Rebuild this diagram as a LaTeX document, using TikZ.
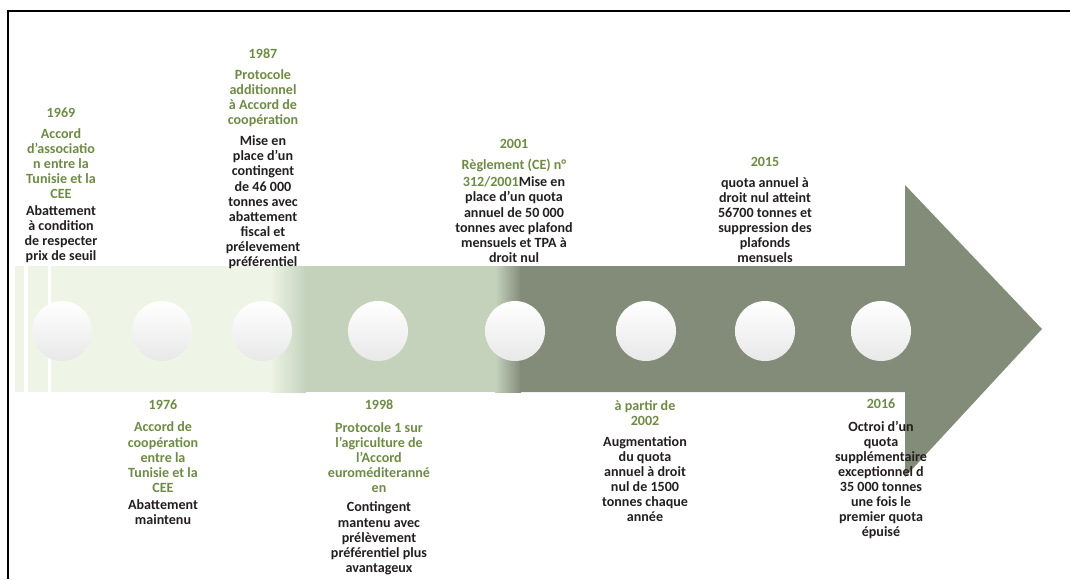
\documentclass[tikz,border=0pt]{standalone}
\usepackage{fontspec}
\setmainfont{Carlito}
\usetikzlibrary{positioning}
\definecolor{bandlight}{HTML}{EEF4E6}
\definecolor{bandmid}{HTML}{C4D2BC}
\definecolor{banddark}{HTML}{838C79}
\definecolor{yeargreen}{HTML}{6E8B45}
\definecolor{notetext}{HTML}{231F20}

\begin{document}
\begin{tikzpicture}[
  x=0.025cm, y=-0.025cm,
  head/.style={align=center, anchor=north, inner sep=0pt, text=yeargreen,
    font=\bfseries\fontsize{10}{10.7}\selectfont},
  body/.style={head, text=notetext},
  milestone/.style={circle, minimum size=1.5cm, inner sep=0pt,
    top color=white, middle color=white, bottom color=black!9}
]
\useasboundingbox (0,0) rectangle (1070,579);

% frame
\draw[line width=1pt] (8,579) -- (8,11) -- (1070,11);

% timeline arrow, light to dark
\fill[bandlight] (15,266) rectangle (272,392);
\shade[left color=bandlight, right color=bandmid] (270,266) rectangle (306,392);
\fill[bandmid] (305,266) rectangle (496,392);
\shade[left color=bandmid, right color=banddark] (495,266) rectangle (521,392);
\fill[banddark] (520,266) -- (905,266) -- (905,185) -- (1042,329)
  -- (905,477) -- (905,392) -- (520,392) -- cycle;
\fill[white] (24,266) rectangle (28,392);
\fill[white] (48,266) rectangle (51,392);

% milestones
\node[milestone] (m1969) at (62,331) {};
\node[milestone] (m1976) at (162,331) {};
\node[milestone] (m1987) at (262,331) {};
\node[milestone] (m1998) at (378,331) {};
\node[milestone] (m2001) at (515,331) {};
\node[milestone] (m2002) at (646,331) {};
\node[milestone] (m2015) at (765,331) {};
\node[milestone] (m2016) at (881,331) {};

% events above the arrow
\node[head] (h1969) at (61,108)
  {1969\\[4pt] Accord\\d'associatio\\n entre la\\Tunisie et la\\CEE};
\node[body, below=4.5pt of h1969] (b1969)
  {Abattement\\à condition\\de respecter\\prix de seuil};

\node[head] (h1987) at (263,49)
  {1987\\[4pt] Protocole\\additionnel\\à Accord de\\coopération};
\node[body, below=6pt of h1987] (b1987)
  {Mise en\\place d'un\\contingent\\de 46 000\\tonnes avec\\abattement\\fiscal et\\prélevement\\préférentiel};

\node[head] (h2001) at (514,139)
  {2001\\[4pt] Règlement (CE) n°};
\node[body, below=3.5pt of h2001] (b2001)
  {\textcolor{yeargreen}{312/2001}Mise en\\place d'un  quota\\annuel  de 50 000\\tonnes  avec plafond\\mensuels et TPA à\\droit nul};

\node[head] (h2015) at (765,157) {2015};
\node[body, below=7.5pt of h2015] (b2015)
  {quota annuel à\\droit nul atteint\\56700 tonnes et\\suppression des\\plafonds\\mensuels};

% events below the arrow
\node[head] (h1976) at (163,400)
  {1976\\[5pt] Accord de\\coopération\\entre la\\Tunisie et la\\CEE};
\node[body, below=5pt of h1976] (b1976)
  {Abattement\\maintenu};

\node[head] (h1998) at (379,400)
  {1998\\[5.5pt] Protocole  1 sur\\l'agriculture de\\l'Accord\\euroméditeranné\\en};
\node[body, below=6pt of h1998] (b1998)
  {Contingent\\mantenu avec\\prélèvement\\préférentiel plus\\avantageux};

\node[head] (h2002) at (645,400)
  {à partir de\\2002};
\node[body, below=7.5pt of h2002] (b2002)
  {Augmentation\\du quota\\annuel à droit\\nul de 1500\\tonnes chaque\\année};

\node[head] (h2016) at (881,399) {2016};
\node[body, below=8pt of h2016] (b2016)
  {Octroi d'un\\quota\\supplémentaire\\exceptionnel d\\35 000 tonnes\\une fois le\\premier quota\\épuisé};
\end{tikzpicture}
\end{document}
